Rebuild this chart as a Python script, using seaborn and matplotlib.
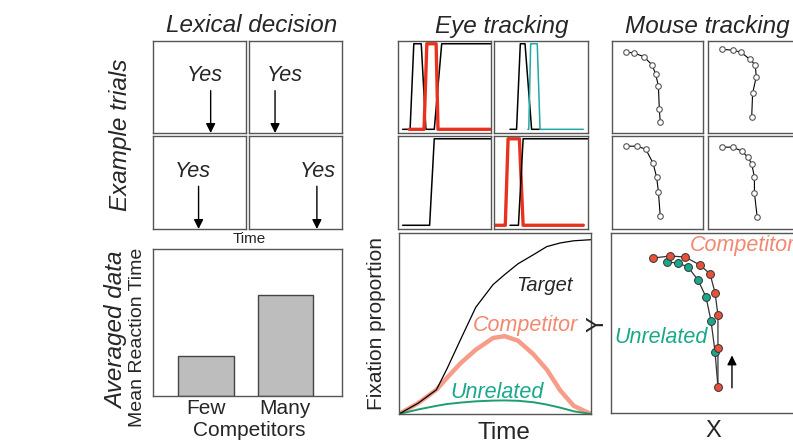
import numpy as np
import pandas as pd
import matplotlib
matplotlib.use("Agg")
import matplotlib.pyplot as plt
import seaborn as sns

# ------------------------------------------------------------------
# Data
# ------------------------------------------------------------------
# Lexical decision: response time of four example trials (fraction of panel)
trial_rt = [0.62, 0.28, 0.49, 0.73]
trial_word = ["Yes", "Yes", "Yes", "Yes"]

# Averaged data: mean reaction time
competitor_sets = ["Few", "Many"]
mean_rt = [0.27, 0.69]

# Eye tracking: four example trials (fixation on/off, 0/1 steps)
eye_trials = [
    {"Target": ([0.05, 0.13, 0.17, 0.25, 0.30, 0.39, 0.47, 1.0], [0, 0, 1, 1, 0, 0, 1, 1]),
     "Competitor": ([0.12, 0.28, 0.31, 0.41, 0.43, 0.99], [0, 0, 1, 1, 0, 0])},
    {"Target": ([0.17, 0.24, 0.28, 0.33, 0.40, 0.49], [0, 0, 1, 1, 0, 0]),
     "Unrelated": ([0.36, 0.37, 0.39, 0.46, 0.49, 0.95], [0, 0, 1, 1, 0, 0])},
    {"Target": ([0.05, 0.34, 0.39, 1.0], [0, 0, 1, 1])},
    {"Competitor": ([0.01, 0.12, 0.15, 0.27, 0.31, 0.95], [0, 0, 1, 1, 0, 0]),
     "Target": ([0.17, 0.26, 0.31, 1.0], [0, 0, 1, 1])},
]

# Eye tracking: averaged fixation proportions
eye_time = [0, .1, .195, .25, .32, .4, .49, .55, .62, .7, .77, .84, .91, 1.0]
fix_target = [0, .06, .134, .25, .41, .59, .715, .77, .83, .88, .925, .945, .957, .963]
fix_competitor = [0, .06, .134, .2, .28, .355, .42, .43, .405, .33, .245, .13, .045, 0]
fix_unrelated = [0, .025, .045, .055, .063, .07, .074, .075, .073, .065, .052, .035, .015, 0]

# Mouse tracking: four example trajectories
mouse_trials = [
    ([0.15, 0.24, 0.35, 0.44, 0.48, 0.51, 0.52, 0.53], [0.88, 0.87, 0.83, 0.74, 0.64, 0.51, 0.26, 0.12]),
    ([0.15, 0.27, 0.36, 0.46, 0.52, 0.53, 0.49, 0.48], [0.91, 0.90, 0.88, 0.80, 0.74, 0.61, 0.43, 0.17]),
    ([0.15, 0.27, 0.37, 0.45, 0.49, 0.51, 0.53], [0.89, 0.89, 0.86, 0.71, 0.56, 0.40, 0.14]),
    ([0.15, 0.27, 0.37, 0.44, 0.48, 0.51, 0.51, 0.54], [0.88, 0.88, 0.84, 0.77, 0.70, 0.56, 0.39, 0.13]),
]

# Mouse tracking: averaged trajectories
comp_x = [0.219, 0.307, 0.385, 0.464, 0.516, 0.542, 0.557, 0.557, 0.557]
comp_y = [0.861, 0.872, 0.867, 0.822, 0.772, 0.667, 0.544, 0.361, 0.144]
unrel_x = [0.292, 0.349, 0.401, 0.453, 0.495, 0.521, 0.542]
unrel_y = [0.839, 0.833, 0.811, 0.739, 0.644, 0.511, 0.339]

# ------------------------------------------------------------------
# Style
# ------------------------------------------------------------------
sns.set_style("white")
plt.rcParams["font.family"] = ["Liberation Sans", "DejaVu Sans"]

RED = "#e8321e"
SALMON = "#f4836b"
TEAL = "#1aa88a"
FRAME = "#555555"
TXT = "#262626"
colors = {"Target": "black", "Competitor": RED, "Unrelated": "#22a8a8"}

W, H = 793, 443
fig = plt.figure(figsize=(W / 100, H / 100), dpi=100)


def px_axes(x0, y0, x1, y1):
    ax = fig.add_axes([x0 / W, 1 - y1 / H, (x1 - x0) / W, (y1 - y0) / H])
    ax.set_xticks([])
    ax.set_yticks([])
    for s in ax.spines.values():
        s.set_color(FRAME)
        s.set_linewidth(1.0)
    return ax


def px_text(x, y, s, **kw):
    kw.setdefault("color", TXT)
    fig.text(x / W, 1 - y / H, s, ha="center", va="center", **kw)


def clean(ax):
    ax.set_xlim(0, 1)
    ax.set_ylim(0, 1)
    ax.set_xticks([])
    ax.set_yticks([])
    ax.set_xlabel("")
    ax.set_ylabel("")


cols_lex = [(153, 246), (249, 342)]
cols_eye = [(398, 491), (494, 588)]
cols_mouse = [(612, 703), (708, 799)]
rows = [(41, 133), (136, 229)]

# ------------------------------------------------------------------
# Lexical decision
# ------------------------------------------------------------------
text_x = [0.56, 0.38, 0.43, 0.74]
for i, rt in enumerate(trial_rt):
    r, c = divmod(i, 2)
    ax = px_axes(cols_lex[c][0], rows[r][0], cols_lex[c][1], rows[r][1])
    clean(ax)
    ax.annotate("", xy=(rt, 0.0), xytext=(rt, 0.46),
                arrowprops=dict(arrowstyle="-|>", color="black", lw=1.0,
                                mutation_scale=14, shrinkA=0, shrinkB=0))
    ax.text(text_x[i], 0.62, trial_word[i], ha="center", va="center",
            fontsize=15.5, style="italic", color=TXT)

px_text(249, 239, "Time", fontsize=11)

ax = px_axes(153, 249, 342, 396)
df_bar = pd.DataFrame({"set": competitor_sets, "rt": mean_rt})
sns.barplot(data=df_bar, x="set", y="rt", ax=ax, color="#bdbdbd",
            edgecolor="#444444", linewidth=1.0, width=0.7, saturation=1)
ax.set_xlim(-0.667, 1.714)
ax.set_ylim(0, 1)
ax.set_xticks([0, 1])
ax.set_xticklabels(competitor_sets, fontsize=15)
ax.tick_params(axis="x", length=0, pad=2)
ax.set_yticks([])
ax.set_xlabel("")
ax.set_ylabel("")
px_text(249, 431, "Competitors", fontsize=15)
px_text(137, 337, "Mean Reaction Time", fontsize=14, rotation=90)

px_text(252, 26, "Lexical decision", fontsize=17.5, style="italic")
px_text(121, 135, "Example trials", fontsize=17.5, style="italic", rotation=90)
px_text(117, 330, "Averaged data", fontsize=17.5, style="italic", rotation=90)

# ------------------------------------------------------------------
# Eye tracking
# ------------------------------------------------------------------
for i, trial in enumerate(eye_trials):
    r, c = divmod(i, 2)
    ax = px_axes(cols_eye[c][0], rows[r][0], cols_eye[c][1], rows[r][1])
    for name, (xs, ys) in trial.items():
        ys = [0.04 + 0.93 * v for v in ys]
        lw = 2.4 if name == "Competitor" else 1.1
        sns.lineplot(x=xs, y=ys, ax=ax, color=colors[name], lw=lw,
                     sort=False, estimator=None)
    clean(ax)

ax = px_axes(399, 233, 591, 414)
df_eye = pd.DataFrame({"t": eye_time, "Target": fix_target,
                       "Competitor": fix_competitor, "Unrelated": fix_unrelated})
sns.lineplot(data=df_eye, x="t", y="Competitor", ax=ax, color=SALMON, lw=3.2, alpha=0.8)
sns.lineplot(data=df_eye, x="t", y="Unrelated", ax=ax, color="#1e9e6e", lw=1.4)
sns.lineplot(data=df_eye, x="t", y="Target", ax=ax, color="black", lw=0.9)
clean(ax)
ax.text(0.76, 0.71, "Target", ha="center", va="center", fontsize=14.5,
        style="italic", color=TXT)
ax.text(0.66, 0.49, "Competitor", ha="center", va="center", fontsize=15.5,
        style="italic", color="#f06a4e", alpha=0.8)
ax.text(0.51, 0.12, "Unrelated", ha="center", va="center", fontsize=15.5,
        style="italic", color=TEAL)
px_text(504, 433, "Time", fontsize=17.5)
px_text(377, 323, "Fixation proportion", fontsize=15, rotation=90)

px_text(502, 26, "Eye tracking", fontsize=17.5, style="italic")

# ------------------------------------------------------------------
# Mouse tracking
# ------------------------------------------------------------------
for i, (xs, ys) in enumerate(mouse_trials):
    r, c = divmod(i, 2)
    ax = px_axes(cols_mouse[c][0], rows[r][0], cols_mouse[c][1], rows[r][1])
    sns.lineplot(x=xs, y=ys, ax=ax, color="black", lw=0.8, sort=False,
                 estimator=None, marker="o", markersize=4.0,
                 markerfacecolor="white", markeredgecolor="#555555",
                 markeredgewidth=0.8)
    clean(ax)

ax = px_axes(611, 233, 803, 413)
sns.lineplot(x=comp_x, y=comp_y, ax=ax, color="#333333", lw=0.9, sort=False,
             estimator=None)
sns.lineplot(x=unrel_x + [comp_x[-1]], y=unrel_y + [comp_y[-1]], ax=ax,
             color="#333333", lw=0.9, sort=False, estimator=None)
sns.scatterplot(x=unrel_x, y=unrel_y, ax=ax, color=TEAL, s=32,
                edgecolor="#333333", linewidth=0.7, zorder=3)
sns.scatterplot(x=comp_x, y=comp_y, ax=ax, color="#e8503a", s=32,
                edgecolor="#333333", linewidth=0.7, zorder=3)
ax.annotate("", xy=(0.63, 0.32), xytext=(0.63, 0.14),
            arrowprops=dict(arrowstyle="-|>", color="black", lw=1.0,
                            mutation_scale=14, shrinkA=0, shrinkB=0))
clean(ax)
ax.text(0.41, 0.93, "Competitor", ha="left", va="center", fontsize=15.5,
        style="italic", color="#f06a4e", alpha=0.8, clip_on=True)
ax.text(0.26, 0.42, "Unrelated", ha="center", va="center", fontsize=15.5,
        style="italic", color=TEAL)
px_text(713, 431, "X", fontsize=17)
px_text(597, 324, "Y", fontsize=17, rotation=90)

px_text(707, 26, "Mouse tracking", fontsize=17.5, style="italic")

fig.savefig("out.png", dpi=100)
